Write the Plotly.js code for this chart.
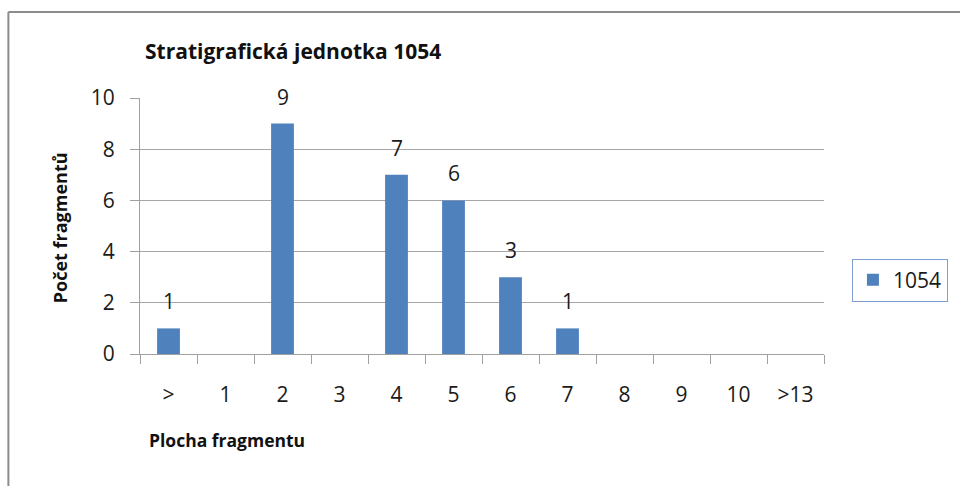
<!DOCTYPE html>
<html>
<head>
<meta charset="utf-8">
<script src="https://cdn.plot.ly/plotly-3.0.1.min.js"></script>
<style>html,body{margin:0;padding:0;background:#fff;}#chart{width:960px;height:486px;}</style>
</head>
<body>
<div id="chart"></div>
<script>
const categories = [">", "1", "2", "3", "4", "5", "6", "7", "8", "9", "10", ">13"];
const values = [1, null, 9, null, 7, 6, 3, 1, null, null, null, null];
const seriesName = "1054";
const chartTitle = "Stratigrafická jednotka 1054";
const xTitle = "Plocha fragmentu";
const yTitle = "Počet fragmentů";
const yTicks = [0, 2, 4, 6, 8, 10];

const FONT = "'Open Sans', Lato, sans-serif";
const W = 960, H = 486;
const M = {l: 140, r: 134, t: 98, b: 132};
const pw = W - M.l - M.r, ph = H - M.t - M.b;
const px = x => (x - M.l) / pw;
const py = y => (H - M.b - y) / ph;

const trace = {
  type: 'bar',
  x: categories,
  y: values,
  name: seriesName,
  width: 0.4,
  marker: {color: '#4f81bd'},
  hoverinfo: 'x+y'
};

const labelAnns = [];
categories.forEach((c, i) => {
  if (values[i] !== null) {
    labelAnns.push({
      x: c, y: values[i], xref: 'x', yref: 'y',
      text: String(values[i]), showarrow: false,
      yanchor: 'middle', yshift: 27,
      font: {family: FONT, size: 21, color: '#1a1a1a'}
    });
  }
});

const layout = {
  width: W, height: H,
  margin: M,
  paper_bgcolor: '#ffffff',
  plot_bgcolor: '#ffffff',
  showlegend: true,
  title: {
    text: chartTitle,
    x: 145 / W, xanchor: 'left', xref: 'container',
    y: 1 - 52 / H, yanchor: 'middle', yref: 'container',
    font: {family: FONT, size: 21, color: '#111', weight: 'bold'}
  },
  xaxis: {
    type: 'category',
    tickson: 'boundaries',
    ticks: 'outside', ticklen: 9, tickcolor: '#a0a0a0', tickwidth: 1,
    showline: true, linecolor: '#a0a0a0', linewidth: 1,
    showgrid: false, zeroline: false,
    tickfont: {family: FONT, size: 21, color: '#1a1a1a'},
    ticklabelstandoff: 22,
    range: [-0.5, 11.5],
    fixedrange: true
  },
  yaxis: {
    range: [0, 10],
    tickvals: yTicks,
    ticks: 'outside', ticklen: 9, tickcolor: '#a0a0a0', tickwidth: 1,
    showline: true, linecolor: '#a0a0a0', linewidth: 1,
    showgrid: true, gridcolor: '#a6a6a6', gridwidth: 1,
    zeroline: false,
    tickfont: {family: FONT, size: 21, color: '#1a1a1a'},
    ticklabelstandoff: 11,
    fixedrange: true
  },
  legend: {
    x: px(854), xanchor: 'left',
    y: py(280), yanchor: 'middle',
    bordercolor: '#7f9fd0', borderwidth: 1,
    bgcolor: '#ffffff',
    font: {family: FONT, size: 21, color: '#1a1a1a'},
    itemwidth: 30
  },
  annotations: labelAnns.concat([
    {
      text: xTitle, xref: 'paper', yref: 'paper',
      x: px(147), xanchor: 'left', y: py(440), yanchor: 'middle',
      showarrow: false,
      font: {family: FONT, size: 17.5, color: '#111', weight: 'bold'}
    },
    {
      text: yTitle, xref: 'paper', yref: 'paper',
      x: px(60), xanchor: 'center', y: py(228), yanchor: 'middle',
      textangle: -90, showarrow: false,
      font: {family: FONT, size: 18, color: '#111', weight: 'bold'}
    }
  ]),
  shapes: [
    {type: 'line', xref: 'paper', yref: 'paper', x0: px(8), x1: px(8), y0: py(492), y1: py(12),
     line: {color: '#8c8c8c', width: 2}},
    {type: 'line', xref: 'paper', yref: 'paper', x0: px(8), x1: px(966), y0: py(12), y1: py(12),
     line: {color: '#8c8c8c', width: 2}}
  ]
};

Plotly.newPlot('chart', [trace], layout, {displayModeBar: false, staticPlot: true});
</script>
</body>
</html>
